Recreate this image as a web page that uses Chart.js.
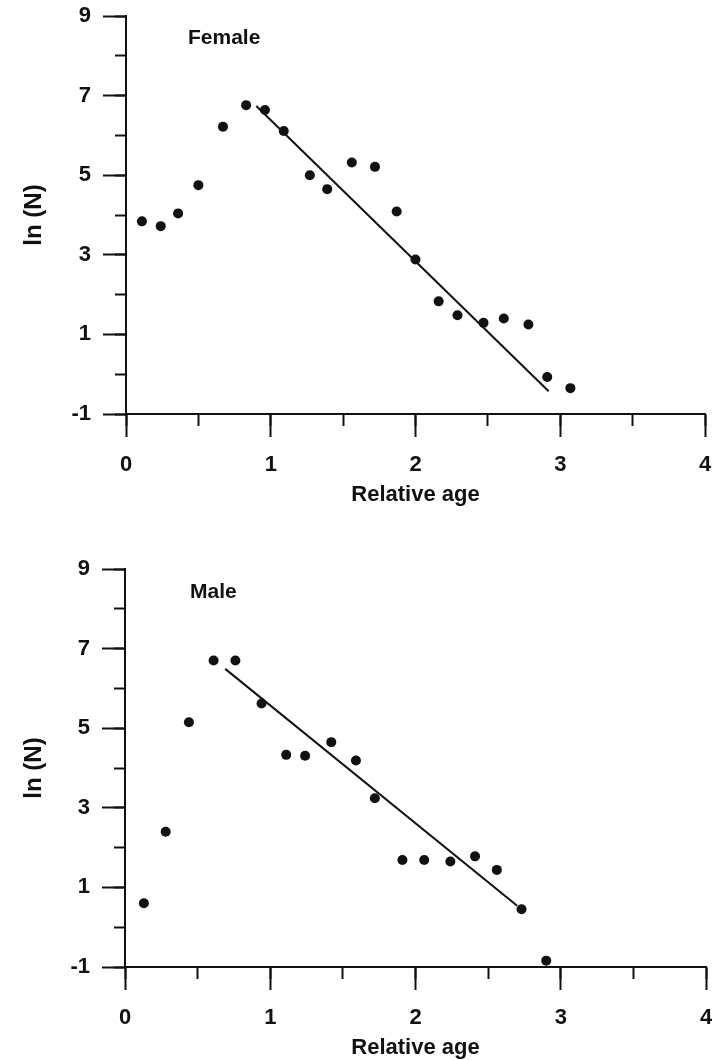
<!DOCTYPE html>
<html>
<head>
<meta charset="utf-8">
<script src="https://cdn.jsdelivr.net/npm/chart.js@4.4.0/dist/chart.umd.min.js"></script>
<style>
  body { margin: 0; background: #fff; }
  .panel { position: absolute; left: 0; width: 712px; height: 508px; }
  .sex { position: absolute; font: bold 21px "Liberation Sans", Arial, sans-serif; line-height: 1; color: #111; }
</style>
</head>
<body>
<div class="panel" style="top:0">
  <canvas id="femaleChart" width="712" height="508"></canvas>
  <div class="sex" style="left:188px;top:26px">Female</div>
</div>
<div class="panel" style="top:553px">
  <canvas id="maleChart" width="712" height="508"></canvas>
  <div class="sex" style="left:190px;top:27px">Male</div>
</div>
<script>
// female panel
const femaleAge = [0.11, 0.24, 0.36, 0.50, 0.67, 0.83, 0.96, 1.09, 1.27, 1.39, 1.56, 1.72, 1.87, 2.00, 2.16, 2.29, 2.47, 2.61, 2.78, 2.91, 3.07];
const femaleLnN = [3.84, 3.72, 4.04, 4.75, 6.22, 6.76, 6.64, 6.11, 5.00, 4.65, 5.32, 5.21, 4.09, 2.88, 1.83, 1.48, 1.29, 1.40, 1.25, -0.07, -0.35];
const femaleFitAge = [0.90, 2.92];
const femaleFitLnN = [6.74, -0.43];

// male panel
const maleAge = [0.13, 0.28, 0.44, 0.61, 0.76, 0.94, 1.11, 1.24, 1.42, 1.59, 1.72, 1.91, 2.06, 2.24, 2.41, 2.56, 2.73, 2.90];
const maleLnN = [0.60, 2.40, 5.15, 6.70, 6.70, 5.62, 4.33, 4.31, 4.65, 4.19, 3.24, 1.69, 1.69, 1.65, 1.78, 1.44, 0.45, -0.84];
const maleFitAge = [0.69, 2.70];
const maleFitLnN = [6.49, 0.54];

// axis ticks
const xTicks = [0, 1, 2, 3, 4];
const yTicks = [-1, 1, 3, 5, 7, 9];

const ink = '#111';
const fam = '"Liberation Sans", Arial, sans-serif';

function toPoints(xs, ys) {
    return xs.map((x, i) => ({ x: x, y: ys[i] }));
}

// drop the label overhang padding so the layout padding alone places the plot area
function noPad(s) {
    s.paddingTop = 0; s.paddingBottom = 0; s.paddingLeft = 0; s.paddingRight = 0;
}

function makeChart(id, age, lnN, fitAge, fitLnN, leftWidth, rightPad) {
    return new Chart(document.getElementById(id), {
        type: 'scatter',
        data: {
            datasets: [
                {
                    data: toPoints(fitAge, fitLnN),
                    showLine: true,
                    pointRadius: 0,
                    borderColor: ink,
                    borderWidth: 2,
                    fill: false
                },
                {
                    data: toPoints(age, lnN),
                    pointRadius: 5,
                    pointHoverRadius: 5,
                    backgroundColor: ink,
                    borderColor: ink,
                    borderWidth: 0,
                    showLine: false
                }
            ]
        },
        options: {
            responsive: false,
            animation: false,
            events: [],
            clip: false,
            layout: { padding: { top: 16, right: rightPad, bottom: 0, left: 0 } },
            plugins: { legend: { display: false }, tooltip: { enabled: false } },
            scales: {
                x: {
                    type: 'linear', position: 'bottom', weight: 1, min: 0, max: 4,
                    afterBuildTicks: s => { s.ticks = xTicks.map(v => ({ value: v })); },
                    afterFit: s => { s.height = 94; noPad(s); },
                    grid: { drawOnChartArea: false, tickLength: 23, tickWidth: 2, tickColor: ink },
                    border: { display: true, color: ink, width: 2 },
                    ticks: { color: ink, padding: 15, maxRotation: 0, autoSkip: false,
                             font: { family: fam, size: 22, weight: 'bold' } },
                    title: { display: true, text: 'Relative age', color: ink, padding: 0,
                             font: { family: fam, size: 22, weight: 'bold' } }
                },
                xMinor: {
                    type: 'linear', position: 'bottom', weight: 0, min: 0, max: 4,
                    afterFit: s => { s.height = 0; noPad(s); },
                    ticks: { stepSize: 0.5, display: false },
                    grid: { drawOnChartArea: false, tickLength: 12, tickWidth: 2, tickColor: ink },
                    border: { display: false }
                },
                y: {
                    type: 'linear', position: 'left', weight: 1, min: -1, max: 9,
                    afterBuildTicks: s => { s.ticks = yTicks.map(v => ({ value: v })); },
                    afterFit: s => { s.width = leftWidth; noPad(s); },
                    grid: { drawOnChartArea: false, tickLength: 23, tickWidth: 2, tickColor: ink },
                    border: { display: true, color: ink, width: 2 },
                    ticks: { color: ink, padding: 12, autoSkip: false,
                             font: { family: fam, size: 22, weight: 'bold' } },
                    title: { display: true, text: 'ln (N)', color: ink, padding: { top: 20, bottom: 0 },
                             font: { family: fam, size: 24, weight: 'bold' } }
                },
                yMinor: {
                    type: 'linear', position: 'left', weight: 0, min: -1, max: 9,
                    afterFit: s => { s.width = 0; noPad(s); },
                    ticks: { stepSize: 1, display: false },
                    grid: { drawOnChartArea: false, tickLength: 11, tickWidth: 2, tickColor: ink },
                    border: { display: false }
                }
            }
        }
    });
}

window.addEventListener('DOMContentLoaded', function() {
    makeChart('femaleChart', femaleAge, femaleLnN, femaleFitAge, femaleFitLnN, 126, 7);
    makeChart('maleChart', maleAge, maleLnN, maleFitAge, maleFitLnN, 125, 6);
});
</script>
</body>
</html>
